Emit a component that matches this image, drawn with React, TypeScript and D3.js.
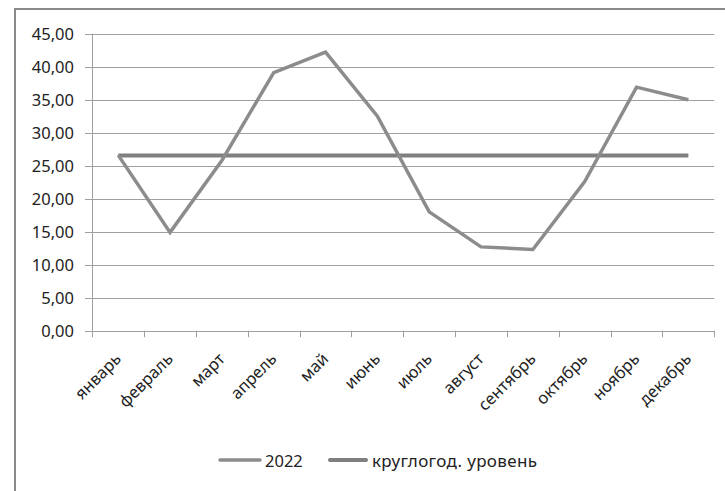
import React from "react";
import * as d3 from "d3";

const months = [
  "январь", "февраль", "март", "апрель", "май", "июнь",
  "июль", "август", "сентябрь", "октябрь", "ноябрь", "декабрь",
];
const values2022 = [26.6, 14.9, 25.8, 39.1, 42.2, 32.5, 18.0, 12.7, 12.3, 22.6, 36.9, 35.0];
const yearRoundLevel = [26.55, 26.55, 26.55, 26.55, 26.55, 26.55, 26.55, 26.55, 26.55, 26.55, 26.55, 26.55];
const yTicks = [0, 5, 10, 15, 20, 25, 30, 35, 40, 45];
const legendLabels = ["2022", "круглогод. уровень"];

const W = 725;
const H = 491;
const FONT = "'Noto Sans', 'Open Sans', sans-serif";

export default function App() {
  const x = d3.scaleBand<string>().domain(months).range([92.3, 714.3]);
  const y = d3.scaleLinear().domain([0, 45]).range([330.7, 33.7]);
  const cx = (m: string) => (x(m) as number) + x.bandwidth() / 2;
  const fmt = (v: number) => v.toFixed(2).replace(".", ",");

  const line = d3
    .line<number>()
    .x((_, i) => cx(months[i]))
    .y((d) => y(d));

  const boundaries = [...months.map((m) => x(m) as number), x.range()[1]];

  return (
    <svg
      width={W}
      height={H}
      style={{ position: "absolute", left: 0, top: 0, background: "#fff" }}
    >
      {/* chart frame */}
      <path d={`M15,${H + 5} V9 H${W + 5}`} fill="none" stroke="#8a8a8a" strokeWidth={2} />

      {/* horizontal gridlines and y labels */}
      {yTicks.map((t) => (
        <g key={t}>
          <line
            x1={85}
            x2={714.3}
            y1={Math.round(y(t)) + 0.5}
            y2={Math.round(y(t)) + 0.5}
            stroke="#a0a0a0"
            strokeWidth={1}
          />
          <text
            x={74}
            y={y(t)}
            dy="0.36em"
            textAnchor="end"
            fontFamily={FONT}
            fontSize={16.5}
            fill="#222"
          >
            {fmt(t)}
          </text>
        </g>
      ))}

      {/* y axis */}
      <line x1={92.5} x2={92.5} y1={y(45)} y2={y(0)} stroke="#a0a0a0" strokeWidth={1} />

      {/* x-axis ticks */}
      {boundaries.map((b, i) => (
        <line
          key={i}
          x1={Math.round(b) + 0.5}
          x2={Math.round(b) + 0.5}
          y1={y(0)}
          y2={y(0) + 6.5}
          stroke="#a0a0a0"
          strokeWidth={1}
        />
      ))}

      {/* month labels, rotated 45 degrees */}
      {months.map((m) => (
        <text
          key={m}
          transform={`translate(${cx(m) + 4},${360}) rotate(-45)`}
          textAnchor="end"
          fontFamily={FONT}
          fontSize={16.5}
          fill="#222"
        >
          {m}
        </text>
      ))}

      {/* year-round level */}
      <path
        d={line(yearRoundLevel) ?? ""}
        fill="none"
        stroke="#7f7f7f"
        strokeWidth={4}
      />
      {/* 2022 series */}
      <path
        d={line(values2022) ?? ""}
        fill="none"
        stroke="#8c8c8c"
        strokeWidth={3.5}
        strokeLinejoin="miter"
      />

      {/* legend */}
      <line x1={220} x2={260} y1={460} y2={460} stroke="#8c8c8c" strokeWidth={3.5} strokeLinecap="round" />
      <text x={265} y={466.5} fontFamily={FONT} fontSize={16.5} fill="#222">
        {legendLabels[0]}
      </text>
      <line x1={330} x2={366} y1={460} y2={460} stroke="#7f7f7f" strokeWidth={4} strokeLinecap="round" />
      <text x={372} y={466.5} fontFamily={FONT} fontSize={17} fill="#222" textLength={165}>
        {legendLabels[1]}
      </text>
    </svg>
  );
}
